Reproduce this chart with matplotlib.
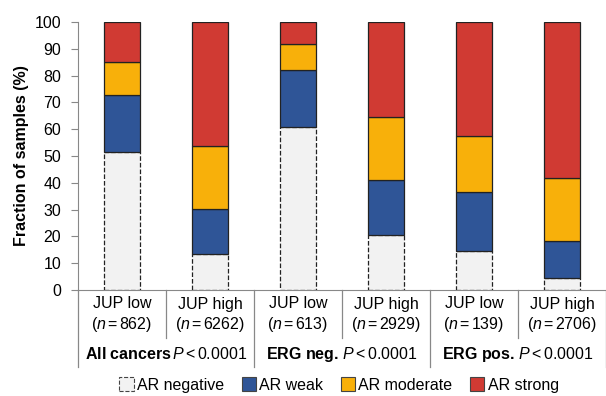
import matplotlib

matplotlib.use("Agg")
import matplotlib.pyplot as plt
import matplotlib.transforms as mtransforms
from matplotlib.patches import Patch
import numpy as np

plt.rcParams["font.family"] = ["Liberation Sans", "DejaVu Sans"]
plt.rcParams["mathtext.fontset"] = "custom"
plt.rcParams["mathtext.rm"] = "Liberation Sans"
plt.rcParams["mathtext.it"] = "Liberation Sans:italic"
plt.rcParams["mathtext.bf"] = "Liberation Sans:bold"

# stacked fractions (%) per bar, bottom to top
ar_negative = [51.5, 13.4, 61.0, 20.7, 14.5, 4.6]
ar_weak = [21.3, 16.9, 21.0, 20.5, 22.1, 13.6]
ar_moderate = [12.4, 23.6, 9.7, 23.2, 20.9, 23.6]
ar_strong = [14.8, 46.1, 8.3, 35.6, 42.5, 58.2]

bar_labels = ["JUP low", "JUP high"] * 3
n_samples = [862, 6262, 613, 2929, 139, 2706]
groups = ["All cancers", "ERG neg.", "ERG pos."]
p_values = ["0.0001", "0.0001", "0.0001"]

series = [
    ("AR negative", ar_negative, "#f2f2f2", "--"),
    ("AR weak", ar_weak, "#2f5597", "-"),
    ("AR moderate", ar_moderate, "#f8b00a", "-"),
    ("AR strong", ar_strong, "#d03a33", "-"),
]

FS = 11.5
W, H = 606, 396
fig = plt.figure(figsize=(W / 100, H / 100), dpi=100)
ax = fig.add_axes([78 / W, 1 - 290 / H, 1 - 78 / W, 268 / H])

x = np.arange(len(bar_labels))
bottom = np.zeros(len(x))
for name, vals, color, ls in series:
    ax.bar(x, vals, width=0.41, bottom=bottom, color=color,
           edgecolor="#222222", linewidth=0.9, linestyle=ls, zorder=2)
    bottom += np.array(vals)

ax.set_xlim(-0.5, len(x) - 0.5)
ax.set_ylim(0, 100)
ax.set_yticks(range(0, 101, 10))
ax.tick_params(axis="y", labelsize=FS, length=5, color="#888888", pad=7)
ax.set_xticks([])
ax.set_ylabel("Fraction of samples (%)", fontsize=FS, fontweight="bold", labelpad=4)
for s in ["top", "right"]:
    ax.spines[s].set_visible(False)
ax.spines["left"].set_color("#888888")
ax.spines["bottom"].set_color("#888888")

# table under the axis
tr = mtransforms.blended_transform_factory(ax.transData, fig.transFigure)
fy = lambda py: 1 - py / H
line_kw = dict(color="#888888", lw=0.9, transform=tr, clip_on=False)
for i in range(len(x) + 1):
    edge = i - 0.5
    low = 367 if i % 2 == 0 else 338
    ax.plot([edge, edge], [fy(290), fy(low)], **line_kw)

for xi, lab, n in zip(x, bar_labels, n_samples):
    ax.text(xi, fy(304), lab, ha="center", va="center", fontsize=FS, transform=tr)
    ax.text(xi, fy(324), rf"($n\,$=$\,${n})", ha="center", va="center",
            fontsize=FS, transform=tr)

for gi, (g, p) in enumerate(zip(groups, p_values)):
    g_tex = g.replace(" ", r"\ ")
    ax.text(2 * gi + 0.5, fy(354), rf"$\mathbf{{{g_tex}}}\,P\,$<$\,${p}",
            ha="center", va="center", fontsize=FS, transform=tr)

handles = [Patch(facecolor=c, edgecolor="#444444", linestyle=ls, linewidth=0.8, label=name)
           for name, _, c, ls in series]
fig.legend(handles=handles, loc="center", bbox_to_anchor=(339 / W, fy(385)), ncol=4,
           frameon=False, fontsize=11.5, handlelength=0.9, handleheight=0.9,
           handletextpad=0.2, columnspacing=1.1, borderpad=0)

fig.savefig("out.png", dpi=100)
